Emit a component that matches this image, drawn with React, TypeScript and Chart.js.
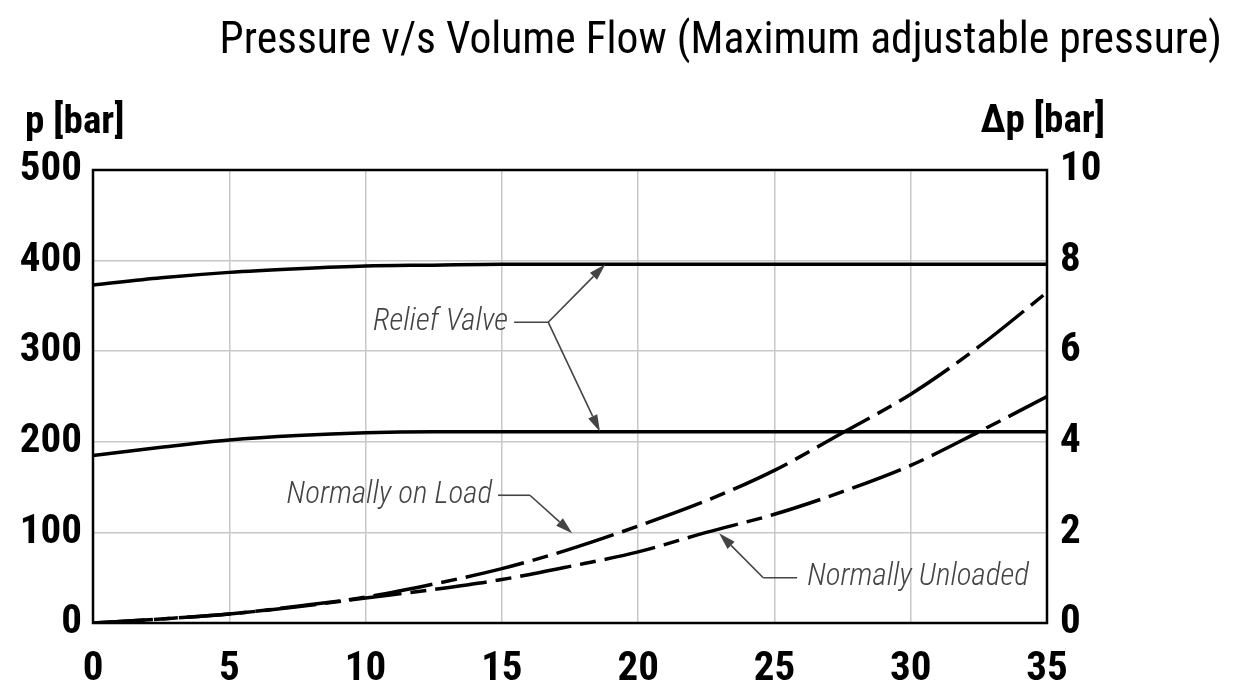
import { useEffect, useRef } from "react";
import { Chart, registerables } from "chart.js";

Chart.register(...registerables);

// ---- data ----
const flow = [0, 2.5, 5, 7.5, 10, 12.5, 15, 17.5, 20, 22.5, 25, 27.5, 30, 32.5, 35];
const reliefHigh = [373, 381, 387, 391, 394, 395, 396, 396, 396, 396, 396, 396, 396, 396, 396];
const reliefLow = [185, 194, 202, 207, 210, 211, 211, 211, 211, 211, 211, 211, 211, 211, 211];
const normallyOnLoad = [0, 0.09, 0.2, 0.37, 0.57, 0.86, 1.2, 1.63, 2.14, 2.7, 3.37, 4.2, 5.05, 6.1, 7.3];
const normallyUnloaded = [0, 0.09, 0.2, 0.36, 0.55, 0.74, 0.96, 1.25, 1.57, 2.0, 2.4, 2.9, 3.48, 4.22, 5.0];

const chartTitle = "Pressure v/s Volume Flow (Maximum adjustable pressure)";
const leftAxisTitle = "p [bar]";
const rightAxisTitle = "\u0394p [bar]";
const labelRelief = "Relief Valve";
const labelLoad = "Normally on Load";
const labelUnloaded = "Normally Unloaded";

const NARROW = '"Roboto Condensed", "DejaVu Sans Condensed", sans-serif';

// annotation anchors in data units (flow, p)
const reliefText = { x: 15.23, p: 332 };
const reliefKnee = { x: 16.7, p: 332 };
const reliefTipHigh = { x: 18.8, p: 396 };
const reliefTipLow = { x: 18.6, p: 211 };
const loadText = { x: 14.64, p: 141 };
const loadKnee = { x: 16.03, p: 141 };
const loadTip = { x: 17.58, p: 99 };
const unloadText = { x: 26.2, p: 50 };
const unloadKnee = { x: 24.59, p: 50 };
const unloadTip = { x: 22.97, p: 99 };

const pts = (ys: number[]) => flow.map((x, i) => ({ x, y: ys[i] }));

function arrow(ctx: CanvasRenderingContext2D, x1: number, y1: number, x2: number, y2: number) {
  const ang = Math.atan2(y2 - y1, x2 - x1);
  const len = 17;
  const w = 5;
  const bx = x2 - len * Math.cos(ang);
  const by = y2 - len * Math.sin(ang);
  ctx.beginPath();
  ctx.moveTo(x1, y1);
  ctx.lineTo(bx, by);
  ctx.stroke();
  ctx.beginPath();
  ctx.moveTo(x2, y2);
  ctx.lineTo(bx + w * Math.sin(ang), by - w * Math.cos(ang));
  ctx.lineTo(bx - w * Math.sin(ang), by + w * Math.cos(ang));
  ctx.closePath();
  ctx.fill();
}

const decorPlugin = {
  id: "decor",
  afterDatasetsDraw(chart: any) {
    const ctx: CanvasRenderingContext2D = chart.ctx;
    const a = chart.chartArea;
    const sx = chart.scales.x;
    const sy = chart.scales.y;
    const X = (v: number) => sx.getPixelForValue(v);
    const Y = (v: number) => sy.getPixelForValue(v);
    ctx.save();
    // frame
    ctx.strokeStyle = "#000";
    ctx.lineWidth = 2.5;
    ctx.strokeRect(a.left, a.top, a.right - a.left, a.bottom - a.top);

    // annotations
    ctx.fillStyle = "#444";
    ctx.strokeStyle = "#444";
    ctx.lineWidth = 1.6;
    ctx.font = `italic 300 31px ${NARROW}`;
    ctx.textBaseline = "middle";

    ctx.textAlign = "right";
    ctx.fillText(labelRelief, X(reliefText.x), Y(reliefText.p));
    ctx.beginPath();
    ctx.moveTo(X(reliefText.x) + 6, Y(reliefText.p));
    ctx.lineTo(X(reliefKnee.x), Y(reliefKnee.p));
    ctx.stroke();
    arrow(ctx, X(reliefKnee.x), Y(reliefKnee.p), X(reliefTipHigh.x), Y(reliefTipHigh.p));
    arrow(ctx, X(reliefKnee.x), Y(reliefKnee.p), X(reliefTipLow.x), Y(reliefTipLow.p));

    ctx.fillText(labelLoad, X(loadText.x), Y(loadText.p));
    ctx.beginPath();
    ctx.moveTo(X(loadText.x) + 6, Y(loadText.p));
    ctx.lineTo(X(loadKnee.x), Y(loadKnee.p));
    ctx.stroke();
    arrow(ctx, X(loadKnee.x), Y(loadKnee.p), X(loadTip.x), Y(loadTip.p));

    ctx.textAlign = "left";
    ctx.fillText(labelUnloaded, X(unloadText.x), Y(unloadText.p));
    ctx.beginPath();
    ctx.moveTo(X(unloadText.x) - 10, Y(unloadText.p));
    ctx.lineTo(X(unloadKnee.x), Y(unloadKnee.p));
    ctx.stroke();
    arrow(ctx, X(unloadKnee.x), Y(unloadKnee.p), X(unloadTip.x), Y(unloadTip.p));

    // titles
    ctx.fillStyle = "#000";
    ctx.textBaseline = "alphabetic";
    ctx.font = `43.6px ${NARROW}`;
    ctx.textAlign = "right";
    ctx.fillText(chartTitle, 1222, 53);

    ctx.font = `bold 39px ${NARROW}`;
    ctx.textAlign = "left";
    ctx.fillText(leftAxisTitle, 25, 133);
    ctx.textAlign = "right";
    ctx.fillText(rightAxisTitle, 1105, 132);
    ctx.restore();
  },
};

export default function App() {
  const ref = useRef<HTMLCanvasElement>(null);
  useEffect(() => {
    if (!ref.current) return;
    const tickFont = { family: NARROW, size: 41, weight: "bold" as const };
    const grid = { color: "#c8c8c8", lineWidth: 1.5, drawTicks: false };
    const curve = {
      borderColor: "#000",
      borderWidth: 3.5,
      pointRadius: 0,
      fill: false,
      cubicInterpolationMode: "monotone" as const,
    };
    const chart = new Chart(ref.current, {
      type: "line",
      data: {
        datasets: [
          { ...curve, label: "Relief Valve high", data: pts(reliefHigh), yAxisID: "y" },
          { ...curve, label: "Relief Valve low", data: pts(reliefLow), yAxisID: "y" },
          { ...curve, label: labelLoad, data: pts(normallyOnLoad), yAxisID: "y2", borderDash: [60, 9, 16, 9] },
          { ...curve, label: labelUnloaded, data: pts(normallyUnloaded), yAxisID: "y2", borderDash: [52, 9, 16, 9] },
        ],
      },
      options: {
        responsive: false,
        animation: false,
        layout: { padding: { top: 170, left: 0, right: 0, bottom: 0 } },
        plugins: { legend: { display: false }, tooltip: { enabled: false }, title: { display: false } },
        scales: {
          x: {
            type: "linear",
            min: 0,
            max: 35,
            ticks: { stepSize: 5, font: tickFont, color: "#000", padding: 22 },
            grid,
            border: { display: false },
            afterFit: (s: any) => { s.height = 69; },
          },
          y: {
            position: "left",
            min: 0,
            max: 500,
            ticks: { stepSize: 100, font: tickFont, color: "#000", padding: 11 },
            grid,
            border: { display: false },
            afterFit: (s: any) => { s.width = 93; },
          },
          y2: {
            position: "right",
            min: 0,
            max: 10,
            ticks: { stepSize: 2, font: tickFont, color: "#000", padding: 13 },
            grid: { display: false, drawTicks: false },
            border: { display: false },
            afterFit: (s: any) => { s.width = 207; },
          },
        },
      },
      plugins: [decorPlugin],
    });
    return () => chart.destroy();
  }, []);
  return (
    <div style={{ position: "fixed", left: 0, top: 0, width: 1254, height: 692, background: "#fff" }}>
      <canvas ref={ref} width={1254} height={692} style={{ display: "block" }} />
    </div>
  );
}
